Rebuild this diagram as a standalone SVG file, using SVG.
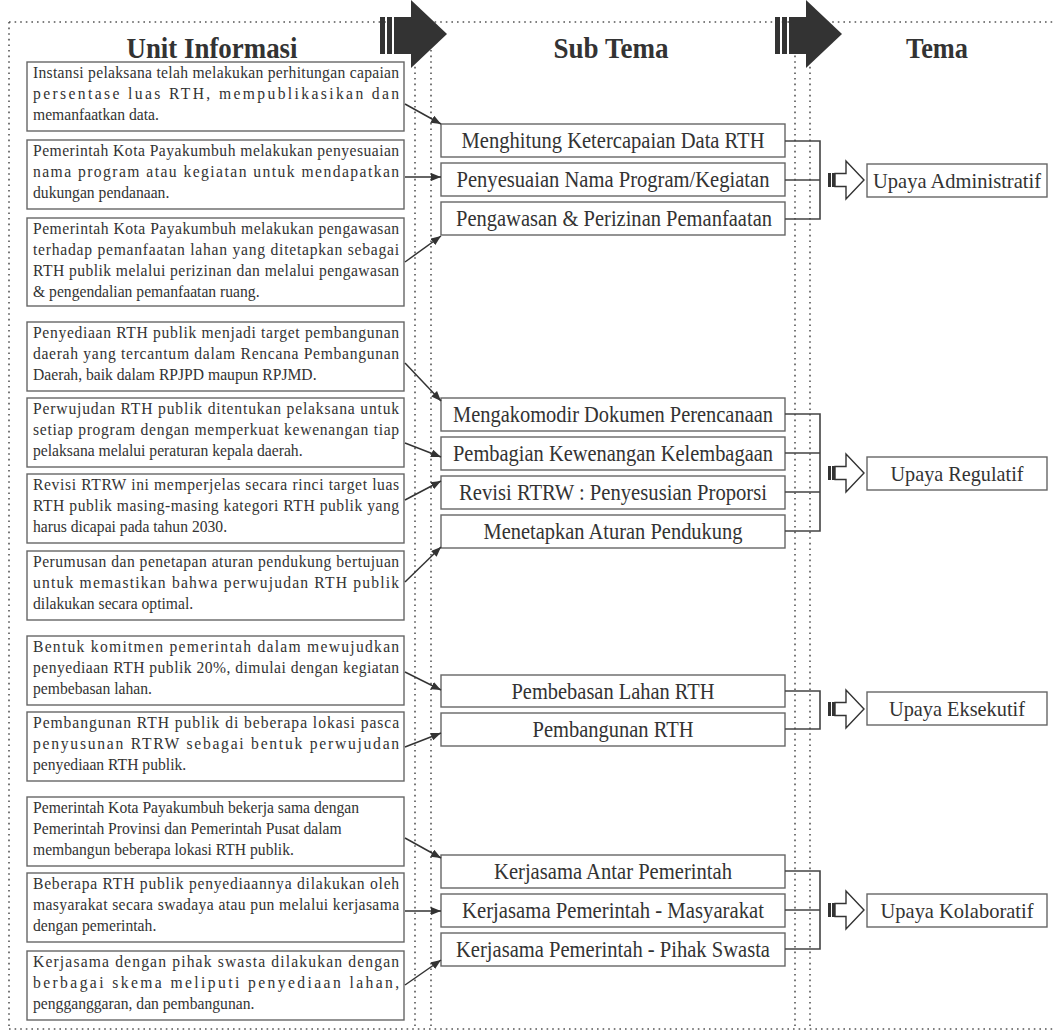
<svg xmlns="http://www.w3.org/2000/svg" width="1056" height="1033" viewBox="0 0 1056 1033">
<style>
.dot{stroke:#555;stroke-width:1.6;stroke-dasharray:1.6 4;fill:none}
.box{fill:#fff;stroke:#666;stroke-width:1.4}
.lt{font-family:"Liberation Serif","Times New Roman",serif;font-size:17px;fill:#333}
.mt{font-family:"Liberation Serif","Times New Roman",serif;font-size:22.5px;fill:#333;text-anchor:middle}
.rt{font-family:"Liberation Serif","Times New Roman",serif;font-size:22px;fill:#333;text-anchor:middle}
.tt{font-family:"Liberation Serif","Times New Roman",serif;font-size:29px;font-weight:bold;fill:#333;text-anchor:middle}
.con{stroke:#333;stroke-width:1.5;fill:none}
.br{stroke:#444;stroke-width:1.6;fill:none}
</style>
<defs>
<marker id="ah" markerUnits="userSpaceOnUse" markerWidth="10" markerHeight="8" refX="10" refY="4" orient="auto">
<path d="M0,0 L10,4 L0,8 z" fill="#333"/>
</marker>
<g id="big">
<rect x="0" y="17" width="5" height="37" fill="#333"/>
<rect x="7" y="17" width="5" height="37" fill="#333"/>
<rect x="14" y="17" width="20" height="37" fill="#333"/>
<polygon points="31,0 67,34 31,68" fill="#333"/>
</g>
<g id="hol">
<rect x="0" y="-7" width="7" height="14" fill="#333"/>
<rect x="3" y="-7" width="1" height="14" fill="#fff"/>
<polygon points="7,-6.5 18,-6.5 18,-19 36,0 18,19 18,6.5 7,6.5" fill="#fff" stroke="#333" stroke-width="1.4"/>
</g>
</defs>
<rect width="1056" height="1033" fill="#fff"/>
<g id="frame">
<line class="dot" x1="9" y1="22" x2="1056" y2="22"/>
<line class="dot" x1="9" y1="22" x2="9" y2="1029"/>
<line class="dot" x1="9" y1="1029" x2="1056" y2="1029"/>
<line class="dot" x1="415" y1="22" x2="415" y2="1029"/>
<line class="dot" x1="431" y1="22" x2="431" y2="1029"/>
<line class="dot" x1="795" y1="22" x2="795" y2="1029"/>
<line class="dot" x1="810" y1="22" x2="810" y2="1029"/>
<use href="#big" x="380" y="0"/>
<use href="#big" x="775" y="0"/>
<text class="tt" x="212" y="58" textLength="171" lengthAdjust="spacingAndGlyphs">Unit Informasi</text>
<text class="tt" x="611" y="58" textLength="115" lengthAdjust="spacingAndGlyphs">Sub Tema</text>
<text class="tt" x="937" y="58" textLength="62" lengthAdjust="spacingAndGlyphs">Tema</text>
</g>

<g id="u1"><rect class="box" x="27" y="62" width="377" height="69"/>
<g transform="translate(33 0) scale(0.92 1)">
<text class="lt" x="0" y="78" textLength="398" lengthAdjust="spacing">Instansi pelaksana telah melakukan perhitungan capaian</text>
<text class="lt" x="0" y="99" textLength="398" lengthAdjust="spacing">persentase luas RTH, mempublikasikan dan</text>
<text class="lt" x="0" y="120">memanfaatkan data.</text></g></g>

<g id="u2"><rect class="box" x="27" y="140" width="377" height="69"/>
<g transform="translate(33 0) scale(0.92 1)">
<text class="lt" x="0" y="156" textLength="398" lengthAdjust="spacing">Pemerintah Kota Payakumbuh melakukan penyesuaian</text>
<text class="lt" x="0" y="177" textLength="398" lengthAdjust="spacing">nama program atau kegiatan untuk mendapatkan</text>
<text class="lt" x="0" y="198">dukungan pendanaan.</text></g></g>

<g id="u3"><rect class="box" x="27" y="218" width="377" height="88"/>
<g transform="translate(33 0) scale(0.92 1)">
<text class="lt" x="0" y="234" textLength="398" lengthAdjust="spacing">Pemerintah Kota Payakumbuh melakukan pengawasan</text>
<text class="lt" x="0" y="255" textLength="398" lengthAdjust="spacing">terhadap pemanfaatan lahan yang ditetapkan sebagai</text>
<text class="lt" x="0" y="276" textLength="398" lengthAdjust="spacing">RTH publik melalui perizinan dan melalui pengawasan</text>
<text class="lt" x="0" y="297">&amp; pengendalian pemanfaatan ruang.</text></g></g>

<g id="u4"><rect class="box" x="27" y="322" width="377" height="69"/>
<g transform="translate(33 0) scale(0.92 1)">
<text class="lt" x="0" y="338" textLength="398" lengthAdjust="spacing">Penyediaan RTH publik menjadi target pembangunan</text>
<text class="lt" x="0" y="359" textLength="398" lengthAdjust="spacing">daerah yang tercantum dalam Rencana Pembangunan</text>
<text class="lt" x="0" y="380">Daerah, baik dalam RPJPD maupun RPJMD.</text></g></g>

<g id="u5"><rect class="box" x="27" y="398" width="377" height="69"/>
<g transform="translate(33 0) scale(0.92 1)">
<text class="lt" x="0" y="414" textLength="398" lengthAdjust="spacing">Perwujudan RTH publik ditentukan pelaksana untuk</text>
<text class="lt" x="0" y="435" textLength="398" lengthAdjust="spacing">setiap program dengan memperkuat kewenangan tiap</text>
<text class="lt" x="0" y="456">pelaksana melalui peraturan kepala daerah.</text></g></g>

<g id="u6"><rect class="box" x="27" y="474" width="377" height="69"/>
<g transform="translate(33 0) scale(0.92 1)">
<text class="lt" x="0" y="490" textLength="398" lengthAdjust="spacing">Revisi RTRW ini memperjelas secara rinci target luas</text>
<text class="lt" x="0" y="511" textLength="398" lengthAdjust="spacing">RTH publik masing-masing kategori RTH publik yang</text>
<text class="lt" x="0" y="532">harus dicapai pada tahun 2030.</text></g></g>

<g id="u7"><rect class="box" x="27" y="551" width="377" height="69"/>
<g transform="translate(33 0) scale(0.92 1)">
<text class="lt" x="0" y="567" textLength="398" lengthAdjust="spacing">Perumusan dan penetapan aturan pendukung bertujuan</text>
<text class="lt" x="0" y="588" textLength="398" lengthAdjust="spacing">untuk memastikan bahwa perwujudan RTH publik</text>
<text class="lt" x="0" y="609">dilakukan secara optimal.</text></g></g>

<g id="u8"><rect class="box" x="27" y="636" width="377" height="69"/>
<g transform="translate(33 0) scale(0.92 1)">
<text class="lt" x="0" y="652" textLength="398" lengthAdjust="spacing">Bentuk komitmen pemerintah dalam mewujudkan</text>
<text class="lt" x="0" y="673" textLength="398" lengthAdjust="spacing">penyediaan RTH publik 20%, dimulai dengan kegiatan</text>
<text class="lt" x="0" y="694">pembebasan lahan.</text></g></g>

<g id="u9"><rect class="box" x="27" y="712" width="377" height="69"/>
<g transform="translate(33 0) scale(0.92 1)">
<text class="lt" x="0" y="728" textLength="398" lengthAdjust="spacing">Pembangunan RTH publik di beberapa lokasi pasca</text>
<text class="lt" x="0" y="749" textLength="398" lengthAdjust="spacing">penyusunan RTRW sebagai bentuk perwujudan</text>
<text class="lt" x="0" y="770">penyediaan RTH publik.</text></g></g>

<g id="u10"><rect class="box" x="27" y="797" width="377" height="69"/>
<g transform="translate(33 0) scale(0.92 1)">
<text class="lt" x="0" y="813">Pemerintah Kota Payakumbuh bekerja sama dengan</text>
<text class="lt" x="0" y="834">Pemerintah Provinsi dan Pemerintah Pusat dalam</text>
<text class="lt" x="0" y="855">membangun beberapa lokasi RTH publik.</text></g></g>

<g id="u11"><rect class="box" x="27" y="873" width="377" height="69"/>
<g transform="translate(33 0) scale(0.92 1)">
<text class="lt" x="0" y="889" textLength="398" lengthAdjust="spacing">Beberapa RTH publik penyediaannya dilakukan oleh</text>
<text class="lt" x="0" y="910" textLength="398" lengthAdjust="spacing">masyarakat secara swadaya atau pun melalui kerjasama</text>
<text class="lt" x="0" y="931">dengan pemerintah.</text></g></g>

<g id="u12"><rect class="box" x="27" y="951" width="377" height="69"/>
<g transform="translate(33 0) scale(0.92 1)">
<text class="lt" x="0" y="967" textLength="398" lengthAdjust="spacing">Kerjasama dengan pihak swasta dilakukan dengan</text>
<text class="lt" x="0" y="988" textLength="398" lengthAdjust="spacing">berbagai skema meliputi penyediaan lahan,</text>
<text class="lt" x="0" y="1009">pengganggaran, dan pembangunan.</text></g></g>

<g id="s1"><rect class="box" x="441" y="124" width="344" height="33"/><text class="mt" x="613" y="148" textLength="303" lengthAdjust="spacingAndGlyphs">Menghitung Ketercapaian Data RTH</text></g>
<g id="s2"><rect class="box" x="441" y="163" width="344" height="33"/><text class="mt" x="613" y="187" textLength="313" lengthAdjust="spacingAndGlyphs">Penyesuaian Nama Program/Kegiatan</text></g>
<g id="s3"><rect class="box" x="441" y="202" width="344" height="33"/><text class="mt" x="614" y="226" textLength="316" lengthAdjust="spacingAndGlyphs">Pengawasan &amp; Perizinan Pemanfaatan</text></g>
<g id="s4"><rect class="box" x="441" y="398" width="344" height="33"/><text class="mt" x="613" y="422" textLength="320" lengthAdjust="spacingAndGlyphs">Mengakomodir Dokumen Perencanaan</text></g>
<g id="s5"><rect class="box" x="441" y="437" width="344" height="33"/><text class="mt" x="613" y="461" textLength="320" lengthAdjust="spacingAndGlyphs">Pembagian Kewenangan Kelembagaan</text></g>
<g id="s6"><rect class="box" x="441" y="476" width="344" height="33"/><text class="mt" x="613" y="500" textLength="308" lengthAdjust="spacingAndGlyphs">Revisi RTRW : Penyesusian Proporsi</text></g>
<g id="s7"><rect class="box" x="441" y="515" width="344" height="33"/><text class="mt" x="613" y="539" textLength="259" lengthAdjust="spacingAndGlyphs">Menetapkan Aturan Pendukung</text></g>
<g id="s8"><rect class="box" x="441" y="675" width="344" height="32"/><text class="mt" x="613" y="699" textLength="203" lengthAdjust="spacingAndGlyphs">Pembebasan Lahan RTH</text></g>
<g id="s9"><rect class="box" x="441" y="713" width="344" height="33"/><text class="mt" x="613" y="737" textLength="161" lengthAdjust="spacingAndGlyphs">Pembangunan RTH</text></g>
<g id="s10"><rect class="box" x="441" y="855" width="344" height="33"/><text class="mt" x="613" y="879" textLength="238" lengthAdjust="spacingAndGlyphs">Kerjasama Antar Pemerintah</text></g>
<g id="s11"><rect class="box" x="441" y="894" width="344" height="33"/><text class="mt" x="613" y="918" textLength="302" lengthAdjust="spacingAndGlyphs">Kerjasama Pemerintah - Masyarakat</text></g>
<g id="s12"><rect class="box" x="441" y="933" width="344" height="33"/><text class="mt" x="613" y="957" textLength="314" lengthAdjust="spacingAndGlyphs">Kerjasama Pemerintah - Pihak Swasta</text></g>

<g id="t1"><rect class="box" x="867" y="164" width="180" height="33"/><text class="rt" x="957" y="188" textLength="168" lengthAdjust="spacingAndGlyphs">Upaya Administratif</text></g>
<g id="t2"><rect class="box" x="867" y="457" width="180" height="33"/><text class="rt" x="957" y="481" textLength="133" lengthAdjust="spacingAndGlyphs">Upaya Regulatif</text></g>
<g id="t3"><rect class="box" x="867" y="692" width="180" height="33"/><text class="rt" x="957" y="716" textLength="136" lengthAdjust="spacingAndGlyphs">Upaya Eksekutif</text></g>
<g id="t4"><rect class="box" x="867" y="894" width="180" height="33"/><text class="rt" x="957" y="918" textLength="153" lengthAdjust="spacingAndGlyphs">Upaya Kolaboratif</text></g>

<g id="connectors">
<line class="con" x1="405" y1="104" x2="441" y2="124" marker-end="url(#ah)"/>
<line class="con" x1="405" y1="177" x2="441" y2="177" marker-end="url(#ah)"/>
<line class="con" x1="405" y1="262" x2="441" y2="236" marker-end="url(#ah)"/>
<line class="con" x1="405" y1="363" x2="441" y2="401" marker-end="url(#ah)"/>
<line class="con" x1="405" y1="443" x2="441" y2="457" marker-end="url(#ah)"/>
<line class="con" x1="405" y1="500" x2="441" y2="481" marker-end="url(#ah)"/>
<line class="con" x1="405" y1="582" x2="441" y2="547" marker-end="url(#ah)"/>
<line class="con" x1="405" y1="672" x2="441" y2="690" marker-end="url(#ah)"/>
<line class="con" x1="405" y1="747" x2="441" y2="733" marker-end="url(#ah)"/>
<line class="con" x1="405" y1="838" x2="441" y2="858" marker-end="url(#ah)"/>
<line class="con" x1="405" y1="911" x2="441" y2="911" marker-end="url(#ah)"/>
<line class="con" x1="405" y1="985" x2="441" y2="960" marker-end="url(#ah)"/>
<path class="br" d="M785,141 H820 V219 H785 M785,180 H820"/>
<path class="br" d="M785,414 H820 V531 H785 M785,453 H820 M785,492 H820"/>
<path class="br" d="M785,691 H820 V729 H785"/>
<path class="br" d="M785,871 H820 V949 H785 M785,910 H820"/>
<use href="#hol" x="828" y="180"/>
<use href="#hol" x="828" y="473"/>
<use href="#hol" x="828" y="709"/>
<use href="#hol" x="828" y="910"/>
</g>
</svg>
